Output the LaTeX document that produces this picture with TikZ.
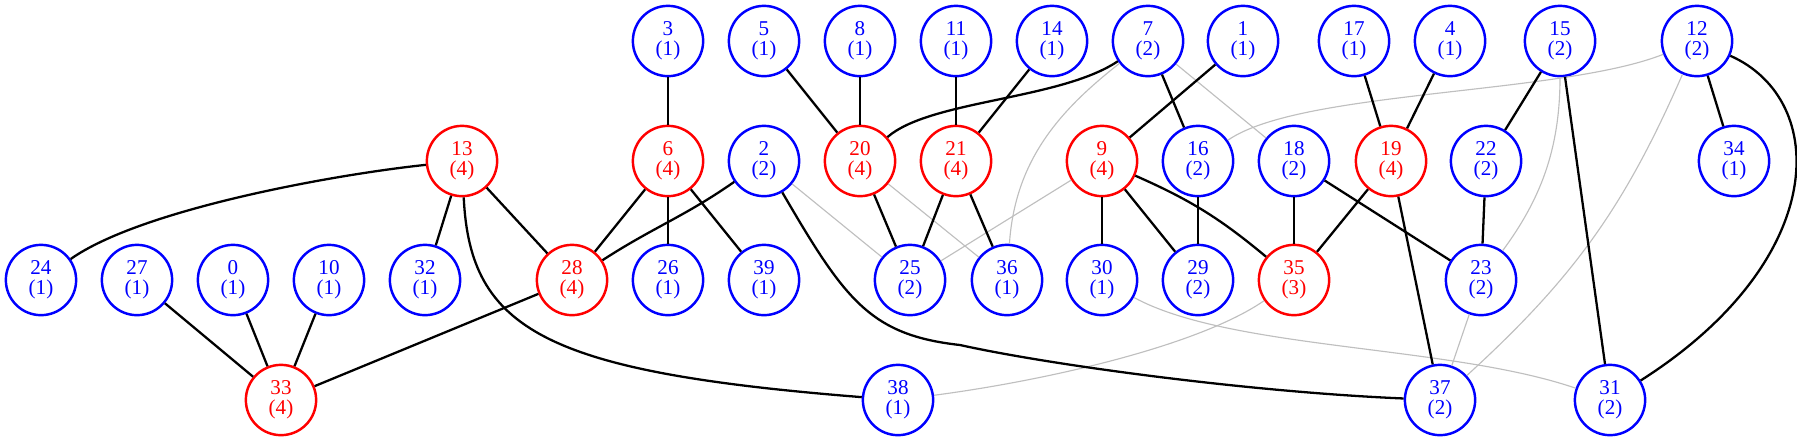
\documentclass[tikz,border=0pt]{standalone}
\usepackage{fontspec}
\setmainfont{Liberation Serif}
\tikzset{
  vblue/.style={draw=blue, text=blue, circle, line width=1.4pt, minimum size=40pt, inner sep=0pt, align=center, font=\fontsize{12}{11.5}\selectfont},
  vred/.style={vblue, draw=red, text=red},
  edge/.style={draw, line width=1.3pt},
  weak/.style={draw=gray!50, line width=0.65pt}
}
\begin{document}
\begin{tikzpicture}[x=0.02cm, y={(0cm,-0.02cm)}]
        \useasboundingbox (0,0) rectangle (1797,441);
        % top row
        \node[vblue] (3) at (668,41) {3\\(1)};
        \node[vblue] (5) at (764,41) {5\\(1)};
        \node[vblue] (8) at (860,41) {8\\(1)};
        \node[vblue] (11) at (956,41) {11\\(1)};
        \node[vblue] (14) at (1052,41) {14\\(1)};
        \node[vblue] (7) at (1148,41) {7\\(2)};
        \node[vblue] (1) at (1243,41) {1\\(1)};
        \node[vblue] (17) at (1354,41) {17\\(1)};
        \node[vblue] (4) at (1450,41) {4\\(1)};
        \node[vblue] (15) at (1560,41) {15\\(2)};
        \node[vblue] (12) at (1697,41) {12\\(2)};
        % second row
        \node[vred] (13) at (462,161) {13\\(4)};
        \node[vred] (6) at (668,161) {6\\(4)};
        \node[vblue] (2) at (764,161) {2\\(2)};
        \node[vred] (20) at (860,161) {20\\(4)};
        \node[vred] (21) at (956,161) {21\\(4)};
        \node[vred] (9) at (1102,161) {9\\(4)};
        \node[vblue] (16) at (1198,161) {16\\(2)};
        \node[vblue] (18) at (1294,161) {18\\(2)};
        \node[vred] (19) at (1391,161) {19\\(4)};
        \node[vblue] (22) at (1486,161) {22\\(2)};
        \node[vblue] (34) at (1734,161) {34\\(1)};
        % third row
        \node[vblue] (24) at (41,280) {24\\(1)};
        \node[vblue] (27) at (137,280) {27\\(1)};
        \node[vblue] (0) at (233,280) {0\\(1)};
        \node[vblue] (10) at (329,280) {10\\(1)};
        \node[vblue] (32) at (425,280) {32\\(1)};
        \node[vred] (28) at (572,280) {28\\(4)};
        \node[vblue] (26) at (668,280) {26\\(1)};
        \node[vblue] (39) at (764,280) {39\\(1)};
        \node[vblue] (25) at (910,280) {25\\(2)};
        \node[vblue] (36) at (1007,280) {36\\(1)};
        \node[vblue] (30) at (1102,280) {30\\(1)};
        \node[vblue] (29) at (1198,280) {29\\(2)};
        \node[vred] (35) at (1294,280) {35\\(3)};
        \node[vblue] (23) at (1481,280) {23\\(2)};
        % bottom row
        \node[vred] (33) at (281,400) {33\\(4)};
        \node[vblue] (38) at (898,400) {38\\(1)};
        \node[vblue] (37) at (1440,400) {37\\(2)};
        \node[vblue] (31) at (1610,400) {31\\(2)};

        \path[weak] (7) -- (18);
        \path[weak] (2) -- (25);
        \path[weak] (20) -- (36);
        \path[weak] (9) -- (25);
        \path[weak] (23) -- (37);
        \path[weak] (12) to[bend left=12] (37);
        \path[weak] (12) .. controls (1560,95) and (1300,90) .. (16);
        \path[weak] (7) .. controls (1060,110) and (1015,160) .. (36);
        \path[weak] (15) .. controls (1560,150) and (1540,200) .. (23);
        \path[weak] (30) .. controls (1230,350) and (1450,345) .. (31);
        \path[weak] (35) .. controls (1200,345) and (1050,380) .. (38);

        \path[edge] (3) -- (6);
        \path[edge] (5) -- (20);
        \path[edge] (8) -- (20);
        \path[edge] (11) -- (21);
        \path[edge] (14) -- (21);
        \path[edge] (1) -- (9);
        \path[edge] (7) -- (16);
        \path[edge] (17) -- (19);
        \path[edge] (4) -- (19);
        \path[edge] (15) -- (22);
        \path[edge] (15) -- (31);
        \path[edge] (12) -- (34);
        \path[edge] (13) -- (32);
        \path[edge] (13) -- (28);
        \path[edge] (6) -- (28);
        \path[edge] (6) -- (26);
        \path[edge] (6) -- (39);
        \path[edge] (2) to[out=-145,in=33] (28);
        \path[edge] (20) -- (25);
        \path[edge] (21) -- (25);
        \path[edge] (21) -- (36);
        \path[edge] (9) -- (30);
        \path[edge] (9) -- (29);
        \path[edge] (16) -- (29);
        \path[edge] (18) -- (35);
        \path[edge] (19) -- (35);
        \path[edge] (18) -- (23);
        \path[edge] (22) -- (23);
        \path[edge] (19) -- (37);
        \path[edge] (27) -- (33);
        \path[edge] (0) -- (33);
        \path[edge] (10) -- (33);
        \path[edge] (28) -- (33);
        \path[edge] (9) to[bend left=8] (35);
        \path[edge] (13) .. controls (330,175) and (140,210) .. (24);
        \path[edge] (13) .. controls (470,330) and (545,372) .. (38);
        \path[edge] (7) .. controls (1060,100) and (930,100) .. (20);
        \path[edge] (2) .. controls (845,300) and (870,335) .. (960,345) .. controls (1050,365) and (1250,392) .. (37);
        \path[edge] (12) .. controls (1830,100) and (1830,260) .. (31);
    \end{tikzpicture}
\end{document}
